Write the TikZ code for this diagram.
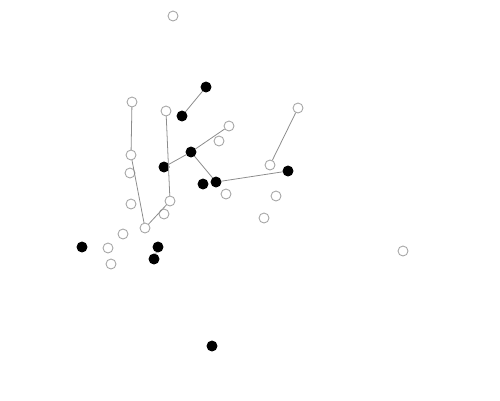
\documentclass[tikz,border=0pt]{standalone}
\usetikzlibrary{positioning}

\begin{document}
\begin{tikzpicture}[x=0.02cm,y=-0.02cm]
\tikzset{
  opennode/.style={circle,draw=black!35,fill=white,line width=0.5pt,minimum size=2mm,inner sep=0pt},
  filednode/.style={circle,draw=black,fill=black,line width=0.5pt,minimum size=2mm,inner sep=0pt},
  graphedge/.style={draw=black!45,line width=0.45pt,line cap=round}
}
\useasboundingbox (0,0) rectangle (500,400);
\node[opennode] (n_a0) at (173,16) {};
\node[filednode] (n_b0) at (206,87) {};
\node[filednode] (n_b1) at (182,116) {};
\node[opennode] (n_a1) at (132,102) {};
\node[opennode] (n_a2) at (166,111) {};
\node[opennode] (n_a3) at (229,126) {};
\node[opennode] (n_a4) at (219,141) {};
\node[filednode] (n_b2) at (191,152) {};
\node[opennode] (n_a5) at (131,155) {};
\node[filednode] (n_b3) at (164,167) {};
\node[opennode] (n_a6) at (130,173) {};
\node[filednode] (n_b4) at (203,184) {};
\node[filednode] (n_b5) at (216,182) {};
\node[opennode] (n_a7) at (226,194) {};
\node[opennode] (n_a8) at (131,204) {};
\node[opennode] (n_a9) at (170,201) {};
\node[opennode] (n_a10) at (164,214) {};
\node[opennode] (n_a11) at (145,228) {};
\node[opennode] (n_a12) at (123,234) {};
\node[filednode] (n_b6) at (82,247) {};
\node[opennode] (n_a13) at (108,248) {};
\node[filednode] (n_b7) at (158,247) {};
\node[filednode] (n_b8) at (154,259) {};
\node[opennode] (n_a14) at (111,264) {};
\node[opennode] (n_a15) at (298,108) {};
\node[opennode] (n_a16) at (270,165) {};
\node[filednode] (n_b9) at (288,171) {};
\node[opennode] (n_a17) at (276,196) {};
\node[opennode] (n_a18) at (264,218) {};
\node[opennode] (n_a19) at (403,251) {};
\node[filednode] (n_b10) at (212,346) {};
\draw[graphedge] (n_b0) -- (n_b1);
\draw[graphedge] (n_a1) -- (n_a5);
\draw[graphedge] (n_a5) -- (n_a11);
\draw[graphedge] (n_a2) -- (n_a9);
\draw[graphedge] (n_a9) -- (n_a11);
\draw[graphedge] (n_b3) -- (n_b2);
\draw[graphedge] (n_b2) -- (n_a3);
\draw[graphedge] (n_b2) -- (n_b5);
\draw[graphedge] (n_b5) -- (n_b9);
\draw[graphedge] (n_a15) -- (n_a16);
\draw[graphedge] (n_b7) -- (n_b8);
\end{tikzpicture}
\end{document}
